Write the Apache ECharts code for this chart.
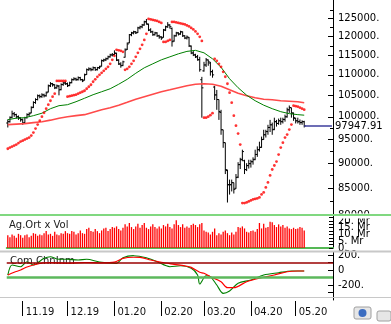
<!DOCTYPE html>
<html><head><meta charset="utf-8">
<script src="https://cdn.jsdelivr.net/npm/echarts@6/dist/echarts.min.js"></script>
<style>html,body{margin:0;padding:0;background:#fff}#c{width:391px;height:324px}</style>
</head><body><div id="c"></div>
<script>
// ---- tick labels ----
const monthLabels = ['11.19','12.19','01.20','02.20','03.20','04.20','05.20'];
const monthStart  = [7, 28, 50, 72, 92, 114, 135];
const priceLabels = [80000,85000,90000,95000,100000,105000,110000,115000,120000,125000];
const priceMinor  = [82500,87500,92500,97500,102500,107500,112500,117500,122500,127500];
const volLabelsA  = [0,10,20];
const volLabelsB  = [5,15];
const volTicks    = [0,2.5,5,7.5,10,12.5,15,17.5,20,22.5];
const cciLabels   = [-200,0,200];
const cciTicks    = [-300,-200,-100,0,100,200];
const lastClose   = 97947.91;

// ---- daily OHLC (Oct 22 2019 .. May 8 2020) ----
const openP = [
 98600,98900,99900,100700,100500,100000,99700,
 99300,98700,99800,100500,100900,102200,103300,104000,104900,104700,105100,104900,105800,107300,107800,107500,106800,107200,106400,107600,108000,
 107800,107400,108100,108800,109000,108800,109300,108800,108700,110100,111300,111500,111300,111800,111300,111800,112200,113600,113800,114100,114600,115100,
 115200,115500,113700,112700,112400,114500,116600,118300,120500,121000,121300,121100,122400,122700,123200,124100,123400,121800,121300,120500,121000,120200,
 119900,119800,121800,122700,123200,122200,118800,120200,121000,120700,121300,120200,119600,119700,117400,115600,115100,114600,113900,108800,
 111000,112500,113800,113000,110800,107000,105100,104000,101000,97100,94300,88500,85700,85700,86100,85000,87200,89700,90800,90500,88700,89500,
 89900,90300,90800,91800,92800,93300,95000,96000,96700,97600,98200,97200,98900,98500,99100,98900,99400,100000,101600,102100,100800,
 99600,99100,98900,98700,98900];
const highP = [
 99400,100100,101400,101100,100700,100300,99900,
 99600,100000,100800,101000,102400,103600,104300,105200,105200,105500,105400,105900,107600,108200,108000,107700,107600,107500,107900,108300,108400,
 108100,108300,109100,109400,109300,109600,109500,109000,110300,111600,111900,111800,112100,112000,112000,112300,113900,114100,114400,114900,115400,115600,
 116300,115700,114000,113200,113600,116800,118400,120700,121300,121600,121500,122700,123000,123500,124400,124900,123600,122300,121600,121300,121200,120500,
 120100,122100,123000,124000,123400,122500,120500,121300,121200,121600,121400,120400,120300,119900,117600,116100,115400,115100,114600,109500,
 113300,114300,113900,113300,111300,107300,106300,104000,101600,97100,94300,88700,86700,86700,86100,87800,90200,91100,92800,90700,90000,90700,
 90700,91200,92800,93500,94500,95600,97100,97100,98200,99300,98700,99800,99300,99600,99800,99800,100500,102100,102600,102100,101000,
 99800,99800,99400,99200,99100];
const lowP = [
 97600,98700,99700,100000,99600,99300,98900,
 98200,98500,99600,100100,100800,102000,103000,103800,104300,104400,104500,104700,105700,107000,107100,106500,106600,105000,106200,107300,107500,
 107000,107200,107900,108600,108500,108600,108600,108200,108600,110000,111000,110900,111100,111000,111100,111500,112100,113300,113500,113900,114400,114700,
 115000,113500,112500,111800,112200,114400,116400,118200,120100,120600,120700,121000,122000,122300,123000,123300,121500,121000,120200,120300,119900,119400,
 119100,119700,121500,122400,122200,117300,118600,120000,120300,120500,119900,119300,119200,117200,115300,114800,114300,113600,110800,99800,
 110800,112000,112300,109800,109300,103900,101600,99300,96000,93200,87800,82300,83800,84400,84000,84900,87000,88800,90400,87800,88400,88900,
 89100,89700,90600,91300,92400,93200,94900,95400,96000,96600,96000,97000,97800,98200,98200,98500,98900,99800,100900,99800,99100,
 98500,98500,98200,98200,97600];
const closeP = [
 98900,99800,100700,100500,100000,99800,99400,
 98500,99800,100500,100700,102100,103300,104000,104900,104700,105100,104900,105600,107300,107800,107600,106800,107300,106300,107600,108000,107800,
 107300,108000,108800,109000,108800,109300,108800,108500,110000,111300,111500,111300,111800,111300,111800,112000,113600,113800,114100,114600,115100,115100,
 115600,113800,112800,112300,113300,116400,118000,120500,121000,121300,121000,122400,122700,123200,124100,123500,121800,121300,120500,121000,120200,119900,
 119600,121800,122700,123200,122700,118600,120200,121000,120700,121300,120200,119600,119900,117500,115600,115100,114600,113800,111300,106800,
 112500,113800,113300,110800,110000,105100,104000,101200,97100,94300,88700,85700,85700,86100,84800,87100,89700,90700,92400,88700,89500,89900,
 90300,90700,91800,92800,93300,94950,96000,96700,97600,98200,97100,98900,98500,99100,98900,99400,100000,101600,102100,100900,99800,
 99100,98900,98700,98900,97947.91];

// ---- parabolic SAR dots ----
const sar = [
 93000,93250,93460,93670,93890,94210,94520,94730,94950,95170,95390,95820,96470,97350,98240,99130,100030,100930,101860,102790,103720,104670,105390,
 108500,108500,108500,108500,108500,
 104670,104790,104910,105030,105150,105390,105630,105860,106100,106580,107070,107560,108290,108900,109520,110020,110520,111020,111520,112040,112800,113820,114860,
 116430,116300,116170,115910,
 111270,111520,112040,112800,113560,114600,115650,116700,117770,119100,120740,
 124900,124760,124620,124480,124340,124060,123780,
 118560,118560,118830,119100,
 124060,124060,123920,123780,123640,123500,123360,123090,122810,122390,121960,121420,120740,119920,118830,
 99800,99800,100030,100370,100820,
 114080,113560,112800,112040,110770,109530,107800,105630,103260,100260,98010,96250,93890,
 82200,82200,82310,82500,82690,82880,82970,83070,83260,83830,84210,85170,86140,87520,88710,89520,90330,91780,93250,94300,95390,96040,97130,98240,
 102560,102440,102330,102090,101860,101630];

// ---- moving averages (read every 4th day) ----
const maIdx = [0,4,8,12,16,20,24,28,32,36,40,44,48,52,56,60,64,68,72,76,80,84,88,92,96,100,104,108,112,116,120,124,128,132,136,139];
const greenMA = [99350,99690,99800,100260,100820,101860,102560,102790,103490,104310,105150,105860,106580,107680,108900,110400,111780,112800,113820,114600,115390,116030,116300,115650,114080,111910,109030,106830,105030,103720,102680,101860,101170,100720,100490,100370];
const redMA   = [98240,98350,98460,98680,98900,99240,99690,100030,100260,100490,101060,101630,102090,102680,103370,104080,104670,105270,105860,106340,106830,107310,107680,107800,107680,107190,106340,105510,104910,104430,104080,103960,103720,103610,103490,103260];

// ---- volume (billion TL) ----
const volume = [
 9.5,8,10,9,7.5,10.5,9.5,
 7.5,9.5,10,8,9,11,10.5,9,10,9.5,11,12.5,10,10.5,9,12,10,9.5,11,10.5,12.5,
 11,10.5,12.5,12,10,11,13,11,10.5,14,15,12.5,12,14,12.5,11,13,14.5,15,12.5,14,15.5,
 15,16,14,13,15,17.5,16,18.5,15.5,14,16,18,15,17,18.5,15,14,16,17.5,15.5,14.5,16,
 14.5,17,16,18,15.5,14.5,17.5,20.5,17,15.5,17.5,15,16,15,17,18,17,15.5,17.5,18.5,
 13,12,11.5,10,12,14.5,9.5,11,10,12,13,11,9.5,11.5,10,12,15.5,15,16,14.5,12,11.5,
 12.5,13,12,14,18.5,14.5,18,15,15.5,19.5,19,17,15.5,17.5,16,17,15,16,14.5,14,15,
 14,14.5,15.5,15,13];

// ---- commodity channel index ----
const cciRedIdx = [0,3,6,9,12,17,20,28,36,44,50,54,59,62,67,72,78,84,86,90,92,95,100,103,106,112,119,125,131,136,139];
const cciRed    = [-67,-30,0,40,67,97,100,90,100,95,105,156,170,169,133,103,76,50,35,-30,-44,-89,-156,-236,-236,-156,-103,-67,-23,-13,-13];
const cciGreenIdx = [0,2,6,9,12,17,20,23,28,33,37,43,51,54,59,65,70,76,81,86,89,90,93,95,98,101,104,108,114,120,127,133,139];
const cciGreen    = [-67,67,44,111,67,156,177,147,143,133,143,107,89,164,191,164,111,44,57,23,-67,-187,-76,-89,-200,-311,-280,-177,-133,-67,-36,-13,-13];

const N = 153;
const cats = Array.from({length: N}, (_, i) => String(i));
const FONT = 'DejaVu Sans';
const isMonth = (i) => monthStart.indexOf(i) >= 0;
const zip = (a, b) => a.map((x, k) => [x, b[k]]);
const ohlc = closeP.map((c, i) => [i, openP[i], highP[i], lowP[i], c]);
const volFmt = v => v === 0 ? '0.' : v + '. Mr';

const chart = echarts.init(document.getElementById('c'), null, {renderer: 'canvas', width: 391, height: 324});
const G = {left: 6.74, right: 58, outerBoundsMode: 'none', containLabel: false};
const option = {
  animation: false,
  backgroundColor: '#fff',
  grid: [
    Object.assign({top: 0, height: 215}, G),
    Object.assign({top: 216, height: 32}, G),
    Object.assign({top: 252, height: 48}, G),
    Object.assign({top: 297, height: 4}, G)
  ],
  xAxis: [0,1,2,3].map(g => ({
    type: 'category', gridIndex: g, data: cats, boundaryGap: true,
    axisLine: {show: g === 1, lineStyle: {color: '#55b855', width: 2}},
    axisTick: {show: g === 3, alignWithLabel: true, interval: (i) => isMonth(i), length: 15, lineStyle: {color: '#000'}},
    axisLabel: {show: g === 3, interval: (i) => isMonth(i), formatter: (v, i) => monthLabels[monthStart.indexOf(i)] || '',
      align: 'left', padding: [0,0,0,3], margin: 6, fontSize: 10, fontFamily: FONT, color: '#111', hideOverlap: false},
    splitLine: {show: false}
  })),
  yAxis: [
    {type: 'log', gridIndex: 0, position: 'right', min: 80000, max: 130400,
     axisLine: {show: true, lineStyle: {color: '#000'}},
     axisTick: {show: true, inside: true, length: 5, customValues: priceLabels, lineStyle: {color: '#000'}},
     axisLabel: {customValues: priceLabels, formatter: v => v + '.', fontSize: 10, fontFamily: FONT, color: '#000', margin: 5, hideOverlap: false},
     splitLine: {show: false}},
    {type: 'log', gridIndex: 0, position: 'right', min: 80000, max: 130400,
     axisLine: {show: false},
     axisTick: {show: true, inside: true, length: 3, customValues: priceMinor, lineStyle: {color: '#000'}},
     axisLabel: {show: false}, splitLine: {show: false}},
    {type: 'value', gridIndex: 1, position: 'right', min: 0, max: 23.7,
     axisLine: {show: true, lineStyle: {color: '#000'}},
     axisTick: {show: true, inside: true, length: 4, customValues: volTicks, lineStyle: {color: '#000'}},
     axisLabel: {customValues: volLabelsA, formatter: volFmt, fontSize: 10, fontFamily: FONT, color: '#000', margin: 5, hideOverlap: false},
     splitLine: {show: false}},
    {type: 'value', gridIndex: 1, position: 'right', min: 0, max: 23.7,
     axisLine: {show: false}, axisTick: {show: false},
     axisLabel: {customValues: volLabelsB, formatter: volFmt, fontSize: 10, fontFamily: FONT, color: '#000', margin: 5, hideOverlap: false},
     splitLine: {show: false}},
    {type: 'value', gridIndex: 2, position: 'right', min: -400, max: 240,
     axisLine: {show: true, lineStyle: {color: '#000'}},
     axisTick: {show: true, inside: true, length: 5, customValues: cciTicks, lineStyle: {color: '#000'}},
     axisLabel: {customValues: cciLabels, formatter: v => v === 0 ? '0' : v + '.', fontSize: 10, fontFamily: FONT, color: '#000', margin: 5, hideOverlap: false},
     splitLine: {show: false}},
    {type: 'value', gridIndex: 3, show: false}
  ],
  series: [
    {type: 'custom', xAxisIndex: 0, yAxisIndex: 0, data: ohlc, encode: {x: 0, y: [1,2,3,4]}, z: 2,
     renderItem: function (params, api) {
       const i = api.value(0);
       const pO = api.coord([i, api.value(1)]);
       const pH = api.coord([i, api.value(2)]);
       const pL = api.coord([i, api.value(3)]);
       const pC = api.coord([i, api.value(4)]);
       const x = pH[0];
       const st = {stroke: '#000', lineWidth: 1};
       return {type: 'group', children: [
         {type: 'line', shape: {x1: x, y1: pH[1], x2: x, y2: pL[1]}, style: st},
         {type: 'line', shape: {x1: x - 1.6, y1: pO[1], x2: x, y2: pO[1]}, style: st},
         {type: 'line', shape: {x1: x, y1: pC[1], x2: x + 1.6, y2: pC[1]}, style: st}
       ]};
     }},
    {type: 'line', xAxisIndex: 0, yAxisIndex: 0, data: zip(maIdx, redMA), symbol: 'none', z: 3,
     lineStyle: {color: '#ff4a4a', width: 1.6}},
    {type: 'line', xAxisIndex: 0, yAxisIndex: 0, data: zip(maIdx, greenMA), symbol: 'none', z: 3,
     lineStyle: {color: '#008000', width: 1},
     markLine: {silent: true, symbol: 'none', animation: false,
       lineStyle: {color: '#3c3c9c', width: 1.5, type: 'solid'},
       label: {show: true, position: 'end', formatter: () => String(lastClose), distance: 3,
               color: '#000', fontSize: 10, fontFamily: FONT, backgroundColor: '#fff', padding: [1,2,1,0]},
       data: [[{coord: [139, lastClose]}, {coord: [152, lastClose]}]]}},
    {type: 'scatter', xAxisIndex: 0, yAxisIndex: 0, data: sar.map((v, i) => [i, v]), symbol: 'circle', symbolSize: 2.8, z: 4,
     itemStyle: {color: '#ff0000'}},
    {type: 'bar', xAxisIndex: 1, yAxisIndex: 2, data: volume, barWidth: 1.3, itemStyle: {color: '#ff0000'}},
    {type: 'line', xAxisIndex: 2, yAxisIndex: 4, data: zip(cciGreenIdx, cciGreen), symbol: 'none', smooth: 0.3, z: 3,
     lineStyle: {color: '#008000', width: 1.1},
     markLine: {silent: true, symbol: 'none', animation: false, label: {show: false},
       data: [{yAxis: 100, lineStyle: {color: '#9a0000', width: 1.5, type: 'solid'}},
              {yAxis: -100, lineStyle: {color: '#5cb85c', width: 2.5, type: 'solid'}}]}},
    {type: 'line', xAxisIndex: 2, yAxisIndex: 4, data: zip(cciRedIdx, cciRed), symbol: 'none', smooth: 0.3, z: 4,
     lineStyle: {color: '#ff0000', width: 1.2}}
  ],
  graphic: [
    {type: 'rect', shape: {x: 334, y: 213.5, width: 57, height: 5}, style: {fill: '#fff'}, z: 50},
    {type: 'line', shape: {x1: 0, y1: 215, x2: 391, y2: 215}, style: {stroke: '#80d880', lineWidth: 2}, z: 51},
    {type: 'line', shape: {x1: 0, y1: 251.5, x2: 391, y2: 251.5}, style: {stroke: '#c8c8c8', lineWidth: 2}, z: 51},
    {type: 'line', shape: {x1: 0, y1: 297.5, x2: 391, y2: 297.5}, style: {stroke: '#c8c8c8', lineWidth: 1}, z: 51},
    {type: 'text', x: 9, y: 220, style: {text: 'Ag.Ort x Vol', font: '10px "DejaVu Sans"', fill: '#222'}, z: 1},
    {type: 'text', x: 10, y: 256, style: {text: 'Com.ChnInm', font: '10px "DejaVu Sans"', fill: '#222'}, z: 1},
    {type: 'rect', shape: {x: 354, y: 307, width: 17, height: 12, r: 2}, style: {fill: '#e6e6e6', stroke: '#a0a0a0'}, z: 51},
    {type: 'circle', shape: {cx: 362.5, cy: 313, r: 4}, style: {fill: '#3b6cc0'}, z: 52},
    {type: 'rect', shape: {x: 377, y: 311, width: 14, height: 10, r: 2}, style: {fill: '#e6e6e6', stroke: '#a0a0a0'}, z: 51}
  ]
};
chart.setOption(option);
</script>
</body></html>
